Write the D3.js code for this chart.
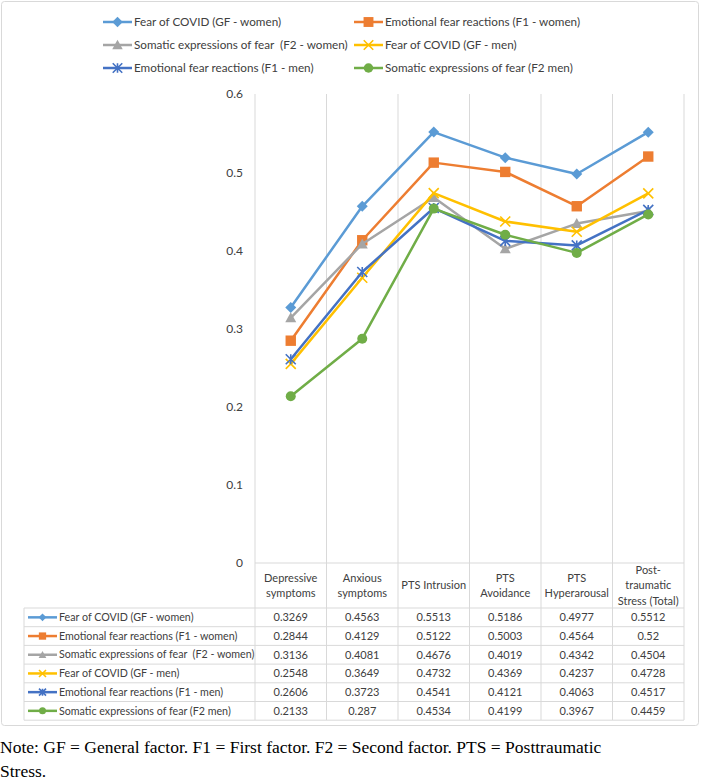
<!DOCTYPE html>
<html><head><meta charset="utf-8">
<script src="https://cdn.jsdelivr.net/npm/d3@7"></script>
<style>
html,body{margin:0;padding:0;background:#fff;}
svg{display:block;}
text{white-space:pre;}
</style></head>
<body>
<svg id="c" width="701" height="782"></svg>
<script>
const categories = [["Depressive","symptoms"],["Anxious","symptoms"],["PTS Intrusion"],["PTS","Avoidance"],["PTS","Hyperarousal"],["Post-","traumatic","Stress (Total)"]];
const seriesNames = ["Fear of COVID (GF - women)","Emotional fear reactions (F1 - women)","Somatic expressions of fear  (F2 - women)","Fear of COVID (GF - men)","Emotional fear reactions (F1 - men)","Somatic expressions of fear (F2 men)"];
const gfWomen = [0.3269,0.4563,0.5513,0.5186,0.4977,0.5512];
const f1Women = [0.2844,0.4129,0.5122,0.5003,0.4564,0.52];
const f2Women = [0.3136,0.4081,0.4676,0.4019,0.4342,0.4504];
const gfMen = [0.2548,0.3649,0.4732,0.4369,0.4237,0.4728];
const f1Men = [0.2606,0.3723,0.4541,0.4121,0.4063,0.4517];
const f2Men = [0.2133,0.287,0.4534,0.4199,0.3967,0.4459];
const yTicks = [0,0.1,0.2,0.3,0.4,0.5,0.6];
const colors = ["#5B9BD5","#ED7D31","#A5A5A5","#FFC000","#4472C4","#70AD47"];
const markers = ["diamond","square","triangle","x","star","circle"];
const noteLines = ["Note: GF = General factor. F1 = First factor. F2 = Second factor. PTS = Posttraumatic","Stress."];

const allSeries = [gfWomen,f1Women,f2Women,gfMen,f1Men,f2Men];
const svg = d3.select("#c");
const FONT = "Lato, 'Open Sans', sans-serif";
const gridC = "#d9d9d9";

svg.append("rect").attr("x",1.5).attr("y",1.5).attr("width",697).attr("height",724)
  .attr("rx",3).attr("fill","#fff").attr("stroke","#d9d9d9").attr("stroke-width",1);

const x = d3.scaleBand().domain(d3.range(categories.length)).range([255,684]).padding(0);
const y = d3.scaleLinear().domain([0,0.6]).range([563,94]);

const borders = d3.range(categories.length+1).map(i => i<categories.length ? x(i) : x.range()[1]);
svg.append("g").selectAll("line").data(borders).join("line")
  .attr("x1",d=>d).attr("x2",d=>d).attr("y1",y(0.6)).attr("y2",720)
  .attr("stroke",gridC).attr("stroke-width",1);

const yAxis = d3.axisLeft(y).tickValues(yTicks).tickSize(0).tickPadding(12).tickFormat(d=>d===0?"0":d3.format(".1f")(d));
const ga = svg.append("g").attr("transform","translate(255,0)").call(yAxis);
ga.select(".domain").remove();
ga.selectAll("text").attr("font-family",FONT).attr("font-size",12).attr("fill","#404040");

const tLeft = 24, headTop = 563, headBot = 608, rowH = 18.7;
const tBottom = headBot + rowH*allSeries.length;
svg.append("line").attr("x1",255).attr("x2",684).attr("y1",headTop).attr("y2",headTop).attr("stroke",gridC);
const hl = d3.range(allSeries.length+1).map(i=>headBot+i*rowH);
svg.append("g").selectAll("line").data(hl).join("line")
  .attr("x1",tLeft).attr("x2",684).attr("y1",d=>d).attr("y2",d=>d).attr("stroke",gridC);
svg.append("line").attr("x1",tLeft).attr("x2",tLeft).attr("y1",headBot).attr("y2",tBottom).attr("stroke",gridC);

const hg = svg.append("g");
categories.forEach((lines,i)=>{
  const cx = x(i)+x.bandwidth()/2;
  const lh = 15.5;
  const mid = (headTop+headBot)/2;
  lines.forEach((t,j)=>{
    hg.append("text").attr("x",cx).attr("y",mid + (j-(lines.length-1)/2)*lh).attr("dy","0.35em")
      .attr("text-anchor","middle").attr("font-family",FONT).attr("font-size",11).attr("fill","#404040").text(t);
  });
});

function drawMarker(g, type, color, cx, cy, s){
  s = s||1;
  if(type==="diamond"){
    g.append("path").attr("d",`M${cx},${cy-5.5*s}L${cx+5.5*s},${cy}L${cx},${cy+5.5*s}L${cx-5.5*s},${cy}Z`).attr("fill",color);
  } else if(type==="square"){
    g.append("rect").attr("x",cx-5.2*s).attr("y",cy-5.2*s).attr("width",10.4*s).attr("height",10.4*s).attr("fill",color);
  } else if(type==="triangle"){
    g.append("path").attr("d",`M${cx},${cy-5.5*s}L${cx+5.5*s},${cy+4.5*s}L${cx-5.5*s},${cy+4.5*s}Z`).attr("fill",color);
  } else if(type==="x"){
    const r=5*s;
    g.append("path").attr("d",`M${cx-r},${cy-r}L${cx+r},${cy+r}M${cx-r},${cy+r}L${cx+r},${cy-r}`).attr("stroke",color).attr("stroke-width",1.6).attr("fill","none");
  } else if(type==="star"){
    const r=5*s;
    g.append("path").attr("d",`M${cx-r},${cy-r}L${cx+r},${cy+r}M${cx-r},${cy+r}L${cx+r},${cy-r}M${cx},${cy-r}L${cx},${cy+r}`).attr("stroke",color).attr("stroke-width",1.6).attr("fill","none");
  } else {
    g.append("circle").attr("cx",cx).attr("cy",cy).attr("r",5*s).attr("fill",color);
  }
}

const line = d3.line().x((d,i)=>x(i)+x.bandwidth()/2).y(d=>y(d));
const pg = svg.append("g");
allSeries.forEach((vals,k)=>{
  const g = pg.append("g");
  g.append("path").datum(vals).attr("d",line).attr("fill","none").attr("stroke",colors[k]).attr("stroke-width",2.5).attr("stroke-linejoin","round");
  vals.forEach((v,i)=>drawMarker(g,markers[k],colors[k],x(i)+x.bandwidth()/2,y(v),1));
});

const tg = svg.append("g");
allSeries.forEach((vals,k)=>{
  const cy = headBot + rowH*(k+0.5);
  tg.append("line").attr("x1",28).attr("x2",57).attr("y1",cy).attr("y2",cy).attr("stroke",colors[k]).attr("stroke-width",2.5);
  drawMarker(tg,markers[k],colors[k],42.5,cy,0.7);
  tg.append("text").attr("x",59).attr("y",cy).attr("dy","0.35em").attr("font-family",FONT).attr("font-size",10.7).attr("fill","#404040").text(seriesNames[k]);
  vals.forEach((v,i)=>{
    tg.append("text").attr("x",x(i)+x.bandwidth()/2).attr("y",cy).attr("dy","0.35em").attr("text-anchor","middle")
      .attr("font-family",FONT).attr("font-size",11).attr("fill","#404040").text(String(v));
  });
});

const legPos = [[103,22],[354,22],[103,45],[354,45],[103,68],[354,68]];
const lg = svg.append("g");
seriesNames.forEach((n,k)=>{
  const [lx,ly] = legPos[k];
  lg.append("line").attr("x1",lx).attr("x2",lx+29).attr("y1",ly).attr("y2",ly).attr("stroke",colors[k]).attr("stroke-width",2.5);
  drawMarker(lg,markers[k],colors[k],lx+14.5,ly,0.95);
  lg.append("text").attr("x",lx+31).attr("y",ly).attr("dy","0.35em").attr("font-family",FONT).attr("font-size",11.7).attr("fill","#404040").text(n);
});

noteLines.forEach((t,i)=>{
  svg.append("text").attr("x",0).attr("y",753+i*24).attr("font-family","'Liberation Serif', 'Times New Roman', serif").attr("font-size",17.5).attr("fill","#000").text(t);
});
</script>
</body></html>
